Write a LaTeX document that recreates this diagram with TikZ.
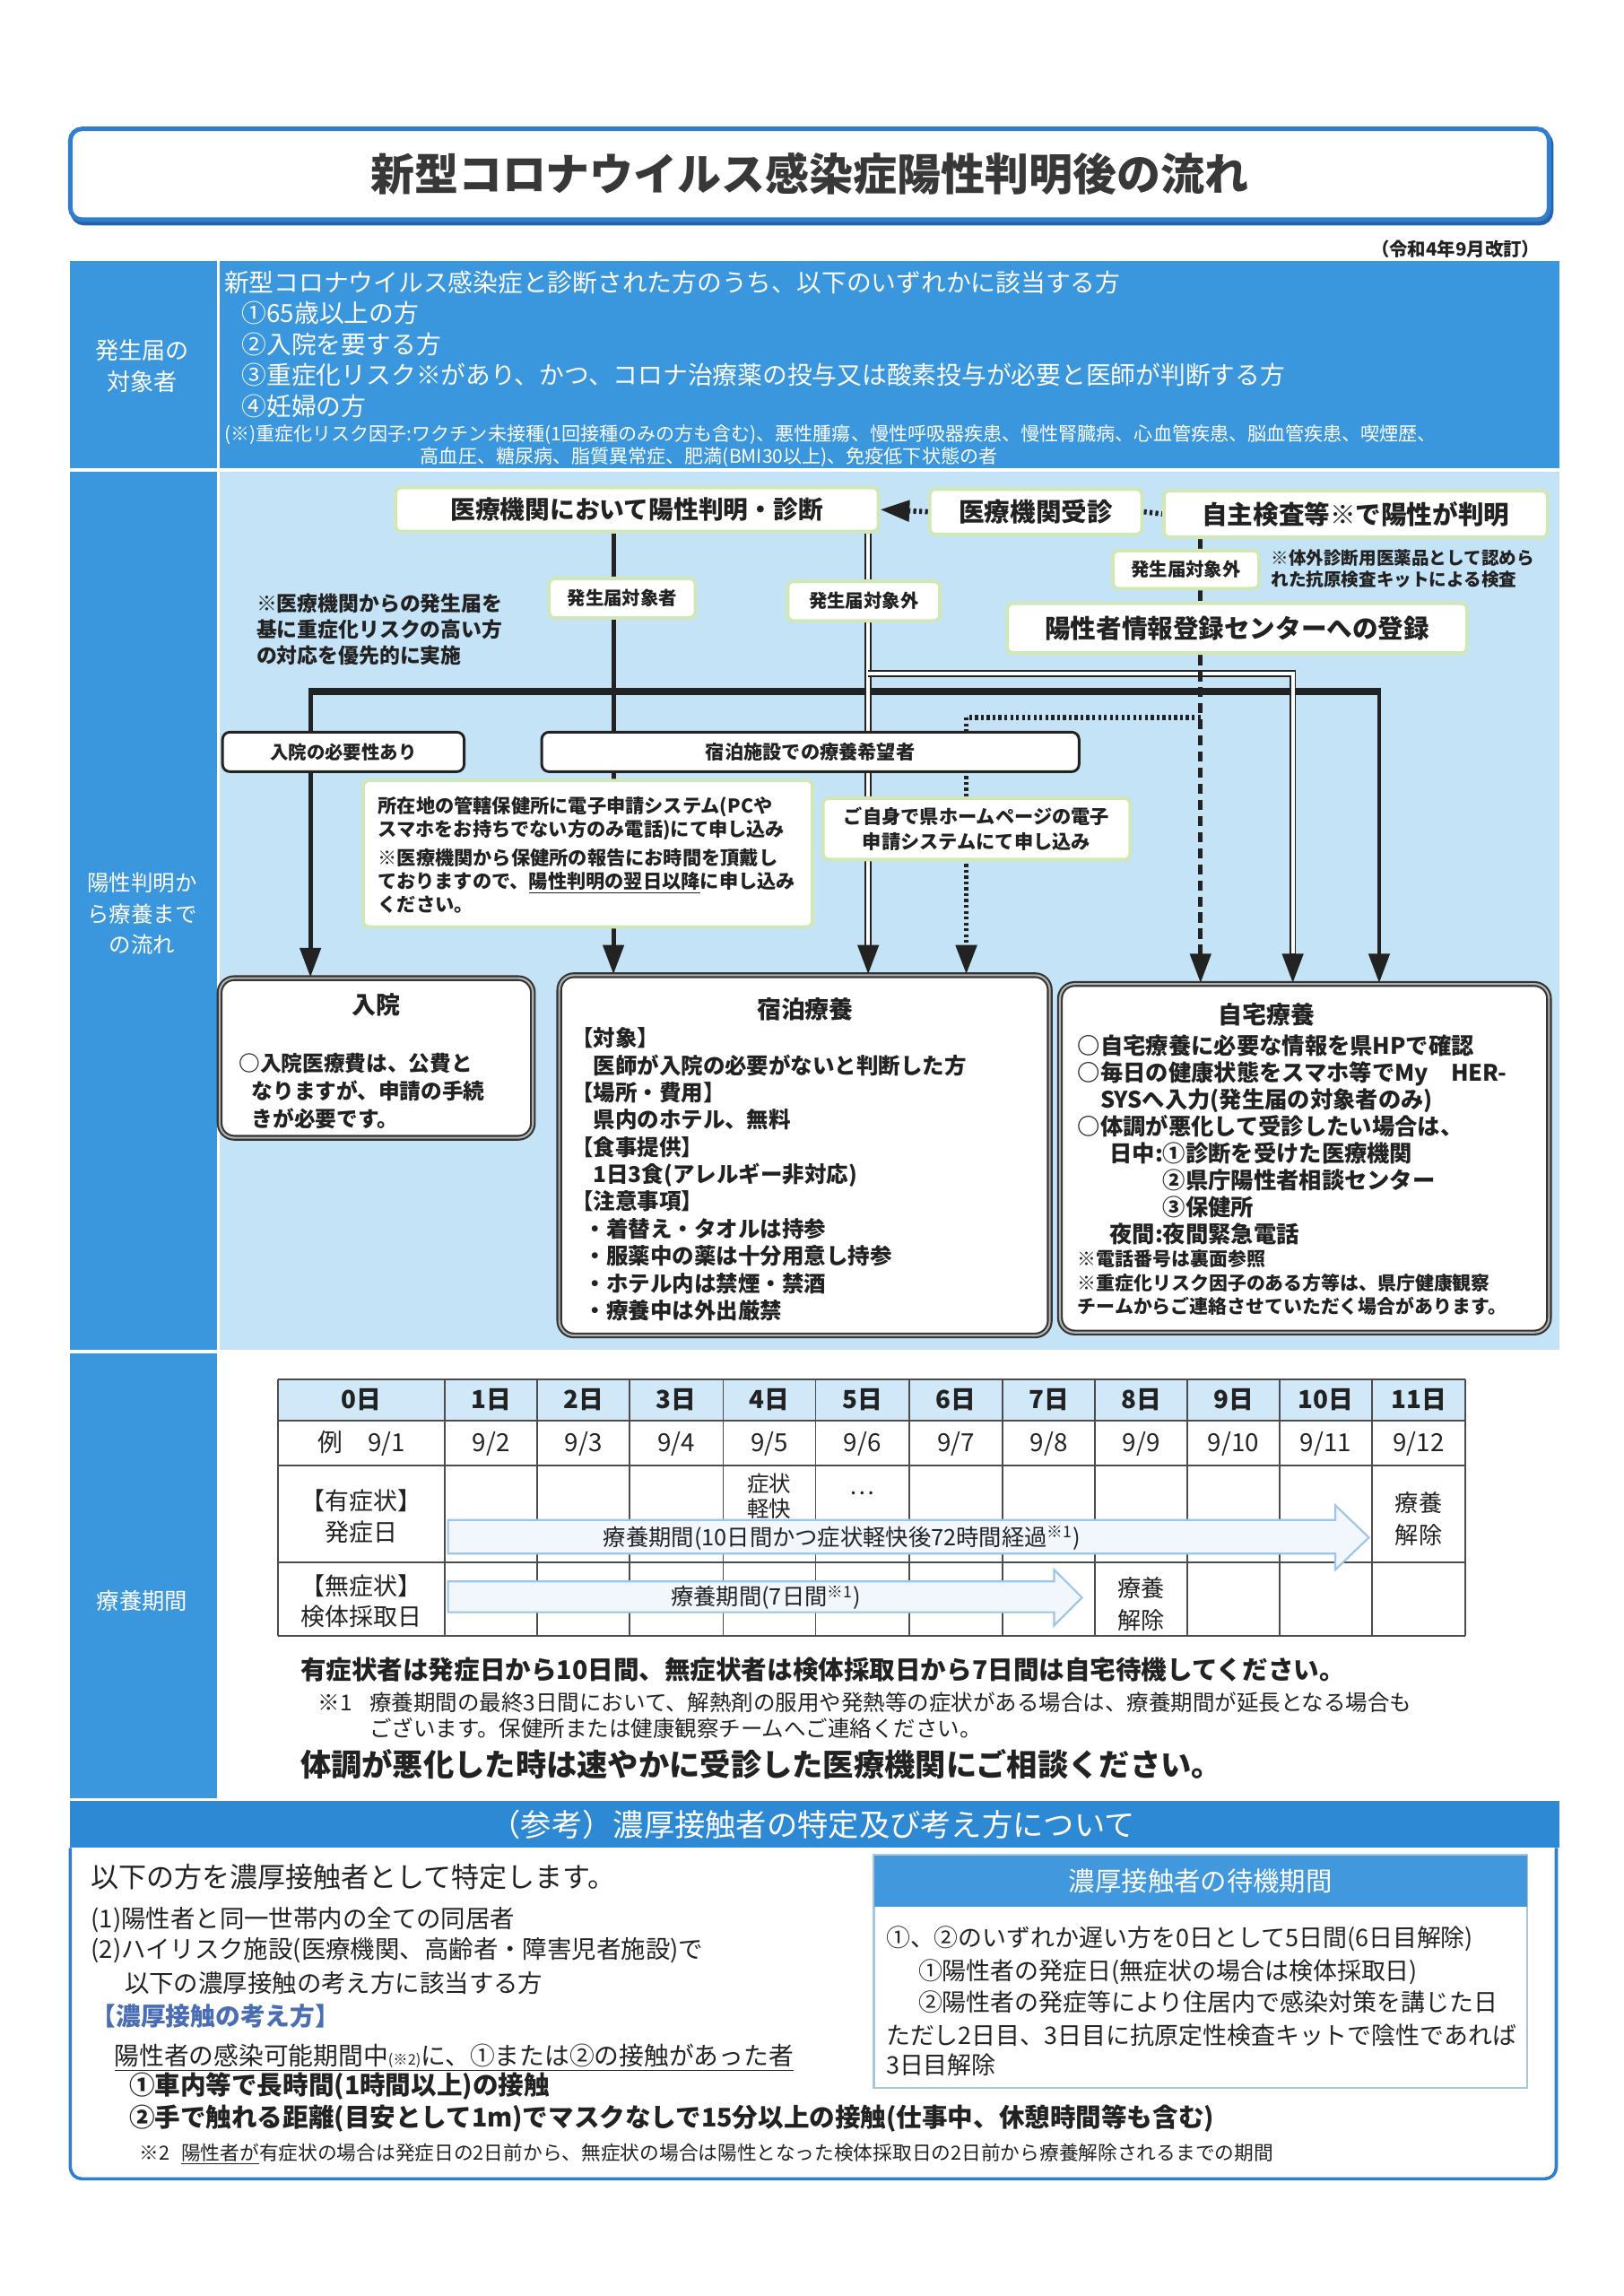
\documentclass[tikz,border=0pt]{standalone}
\usepackage{fontspec}
\setmainfont{Noto Sans CJK JP}
\usetikzlibrary{arrows.meta,calc}
\pgfdeclarelayer{back}\pgfdeclarelayer{mid}
\pgfsetlayers{back,mid,main}
\definecolor{bmain}{HTML}{3A97DD}
\definecolor{bhead}{HTML}{2E89D5}
\definecolor{bh2}{HTML}{4298DC}
\definecolor{blight}{HTML}{C5E3F6}
\definecolor{gbd}{HTML}{D0E7B8}
\definecolor{tx}{HTML}{222222}
\definecolor{hdr}{HTML}{D0E8F8}
\definecolor{afill}{HTML}{F1F7FD}
\definecolor{aline}{HTML}{9DC5E9}
\definecolor{kang}{HTML}{4A6DB3}
\definecolor{tb}{HTML}{2F7ED0}
\definecolor{wbd}{HTML}{A9C4DD}
\newcommand\fsz[2]{\fontsize{#1pt}{#2pt}\selectfont}
\begin{document}
\begin{tikzpicture}[x=1pt,y=-1pt,
 gbox/.style={draw=gbd, line width=2.4pt, fill=white, rounded corners=4pt, inner sep=0pt, text=tx},
 kbox/.style={draw=tx, line width=1.8pt, fill=white, rounded corners=5pt, inner sep=0pt, text=tx},
 bigbox/.style={draw=black!80, line width=1.3pt, double=black!30, double distance=1.3pt, fill=white, rounded corners=10pt, inner sep=0pt},
 txt/.style={inner sep=0pt, text=tx, align=left},
 wtxt/.style={inner sep=0pt, text=white, align=left},
 thk/.style={draw=tx, line width=3pt},
 barline/.style={draw=tx, line width=5pt},
 dbl/.style={draw=tx, line width=1pt, double=white, double distance=2.6pt},
 dsh/.style={draw=tx, line width=3pt, dash pattern=on 7pt off 4pt},
 dts/.style={draw=tx, line width=3.5pt, dash pattern=on 2pt off 2pt},
 arr/.style={-{Triangle[length=20pt,width=14pt]}},
 grid/.style={draw=black!70, line width=1.1pt},
 parrow/.style={fill=afill, draw=aline, line width=1.3pt},
]
\useasboundingbox (0,0) rectangle (1109,1568);
\begin{pgfonlayer}{back}
\fill[white] (0,0) rectangle (1109,1568);
\fill[bmain] (48,178) rectangle (148,320);
\fill[bmain] (150,178) rectangle (1065,320);
\fill[bmain] (48,322) rectangle (148,922);
\fill[blight] (150,322) rectangle (1065,922);
\fill[bmain] (48,924) rectangle (148,1228);
\fill[bhead] (48,1230) rectangle (1065,1262);
\draw[tb!80!black, line width=3pt, rounded corners=8pt] (49.5,90.5) rectangle (1059.5,152.5);
\end{pgfonlayer}

% title
\node[draw=tb, line width=3pt, fill=white, rounded corners=8pt, minimum width=1010pt, minimum height=62pt, inner sep=0pt, text=black!78, font=\fsz{30}{36}\bfseries] (title) at (553,119) {新型コロナウイルス感染症陽性判明後の流れ};
\node[txt, anchor=east, font=\fsz{12.5}{15}\bfseries] (rev) at (1052,170) {（令和4年9月改訂）};

% section labels
\node[wtxt, align=center, font=\fsz{16}{21}] (lab1) at (97,250) {発生届の\\対象者};
\node[wtxt, align=center, font=\fsz{15}{21}] (lab2) at (97,624) {陽性判明か\\ら療養まで\\の流れ};
\node[wtxt, align=center, font=\fsz{15.5}{20}] (lab3) at (97,1093) {療養期間};

% block 1
\node[wtxt, anchor=west, font=\fsz{17}{21.3}] (b1a) at (153,193) {新型コロナウイルス感染症と診断された方のうち、以下のいずれかに該当する方};
\node[wtxt, anchor=north west, font=\fsz{17}{21.3}] (b1b) at (165,205.5) {①65歳以上の方\\②入院を要する方\\③重症化リスク※があり、かつ、コロナ治療薬の投与又は酸素投与が必要と医師が判断する方\\④妊婦の方};
\node[wtxt, anchor=west, font=\fsz{12.9}{15}] (b1c) at (153,297) {(※)重症化リスク因子:ワクチン未接種(1回接種のみの方も含む)、悪性腫瘍、慢性呼吸器疾患、慢性腎臓病、心血管疾患、脳血管疾患、喫煙歴、};
\node[wtxt, anchor=west, font=\fsz{12.9}{15}] (b1d) at (287,312) {高血圧、糖尿病、脂質異常症、肥満(BMI30以上)、免疫低下状態の者};

% block 2 nodes
\node[gbox, minimum width=330pt, minimum height=30pt, font=\fsz{17}{20}\bfseries] (A) at (435,348) {医療機関において陽性判明・診断};
\node[gbox, minimum width=145pt, minimum height=31pt, font=\fsz{17.5}{20}\bfseries] (B) at (707.5,349.5) {医療機関受診};
\node[gbox, minimum width=262pt, minimum height=32pt, font=\fsz{17.5}{20}\bfseries] (C) at (926,351) {自主検査等※で陽性が判明};
\node[gbox, minimum width=100pt, minimum height=26pt, font=\fsz{12.5}{15}\bfseries] (D) at (810,389) {発生届対象外};
\node[txt, anchor=north west, font=\fsz{12}{15}\bfseries] (Dn) at (868,375) {※体外診断用医薬品として認めら\\れた抗原検査キットによる検査};
\node[gbox, minimum width=314pt, minimum height=34pt, font=\fsz{17.5}{20}\bfseries] (E) at (845,429) {陽性者情報登録センターへの登録};
\node[gbox, minimum width=100pt, minimum height=27pt, font=\fsz{12.5}{15}\bfseries] (F) at (425,408.5) {発生届対象者};
\node[gbox, minimum width=104pt, minimum height=27pt, font=\fsz{12.5}{15}\bfseries] (G) at (590,410.5) {発生届対象外};
\node[txt, anchor=north west, font=\fsz{14}{18}\bfseries] (Ln) at (175,405) {※医療機関からの発生届を\\基に重症化リスクの高い方\\の対応を優先的に実施};
\node[kbox, minimum width=165pt, minimum height=27pt, font=\fsz{12.5}{15}\bfseries] (H) at (234.5,513.5) {入院の必要性あり};
\node[kbox, minimum width=367pt, minimum height=27pt, font=\fsz{13}{15}\bfseries] (S) at (553.5,513.5) {宿泊施設での療養希望者};
\node[gbox, minimum width=307pt, minimum height=100pt] (N1) at (401.5,583) {};
\node[txt, anchor=north west, font=\fsz{13}{16}\bfseries] (N1a) at (258,543.5) {所在地の管轄保健所に電子申請システム(PCや\\スマホをお持ちでない方のみ電話)にて申し込み};
\node[txt, anchor=north west, font=\fsz{13}{16}\bfseries] (N1b) at (258,579.5) {※医療機関から保健所の報告にお時間を頂戴し\\ておりますので、\underline{陽性判明の翌日以降}に申し込み\\ください。};
\node[gbox, minimum width=210pt, minimum height=42pt, align=center, font=\fsz{13}{17}\bfseries] (N2) at (667,566) {ご自身で県ホームページの電子\\申請システムにて申し込み};

% bottom boxes
\node[bigbox, minimum width=214pt, minimum height=109pt] (nyuin) at (257,722.5) {};
\node[txt, font=\fsz{16.5}{20}\bfseries] (nyuinT) at (257,686) {入院};
\node[txt, anchor=north west, font=\fsz{14.5}{19}\bfseries] (nyuinB) at (163,718.75) {○入院医療費は、公費と\\\hspace*{0.6em}なりますが、申請の手続\\\hspace*{0.6em}きが必要です。};
\node[bigbox, minimum width=335pt, minimum height=246pt] (shuku) at (549.5,789) {};
\node[txt, font=\fsz{16.5}{20}\bfseries] (shukuT) at (550,689) {宿泊療養};
\node[txt, anchor=north west, font=\fsz{15}{18.6}\bfseries] (shukuB) at (390,701.5) {【対象】\\\hspace*{1em}医師が入院の必要がないと判断した方\\【場所・費用】\\\hspace*{1em}県内のホテル、無料\\【食事提供】\\\hspace*{1em}1日3食(アレルギー非対応)\\【注意事項】\\\hspace*{0.6em}・着替え・タオルは持参\\\hspace*{0.6em}・服薬中の薬は十分用意し持参\\\hspace*{0.6em}・ホテル内は禁煙・禁酒\\\hspace*{0.6em}・療養中は外出厳禁};
\node[bigbox, minimum width=334pt, minimum height=238pt] (jitaku) at (891,791) {};
\node[txt, font=\fsz{16.5}{20}\bfseries] (jitakuT) at (865,693) {自宅療養};
\node[txt, anchor=north west, font=\fsz{15.5}{18.4}\bfseries] (jitakuB) at (736,706.25) {○自宅療養に必要な情報を県HPで確認\\○毎日の健康状態をスマホ等でMy　HER-\\\hspace*{1em}SYSへ入力(発生届の対象者のみ)\\○体調が悪化して受診したい場合は、\\\hspace*{1.4em}日中:①診断を受けた医療機関\\\hspace*{1.4em}\phantom{日中:}②県庁陽性者相談センター\\\hspace*{1.4em}\phantom{日中:}③保健所\\\hspace*{1.4em}夜間:夜間緊急電話};
\node[txt, anchor=north west, font=\fsz{12.8}{16}\bfseries] (jitakuN) at (736,853.6) {※電話番号は裏面参照\\※重症化リスク因子のある方等は、県庁健康観察\\チームからご連絡させていただく場合があります。};

% connectors
\coordinate (c1) at (212,472);
\coordinate (c2) at (419,472);
\coordinate (c3) at (593,460);
\coordinate (c4) at (660,490);
\coordinate (c5) at (820,490);
\coordinate (c6) at (883,460);
\coordinate (c7) at (942,472);
\begin{pgfonlayer}{mid}
\draw[thk, arr] (A.south -| c2) -- (c2 |- shuku.north);
\draw[barline] ($(c1)+(-1.5,0)$) -- ($(c7)+(1.5,0)$);
\draw[thk, arr] (c1) -- (c1 |- nyuin.north);
\draw[thk, arr] (c7) -- (c7 |- jitaku.north);
\draw[dbl] (A.south -| c3) -- ($(c3 |- shuku.north)+(0,-17)$);
\draw[dbl] (c3) -- (c6) -- ($(c6 |- jitaku.north)+(0,-17)$);
\draw[thk, arr] ($(c3 |- shuku.north)+(0,-20)$) -- (c3 |- shuku.north);
\draw[thk, arr] ($(c6 |- jitaku.north)+(0,-20)$) -- (c6 |- jitaku.north);
\draw[dsh] (C.south -| c5) -- (D.north -| c5);
\draw[dsh] (D.south -| c5) -- (E.north -| c5);
\draw[dsh, arr] (E.south -| c5) -- (c5 |- jitaku.north);
\draw[dts] (c5) -- (c4);
\draw[dts, arr] (c4) -- (c4 |- shuku.north);
\draw[dts, arr] (B.west) -- (A.east);
\draw[dts] (B.east) -- (C.west);
\end{pgfonlayer}

% table
\fill[hdr] (190,942) rectangle (1001,970);
\foreach \yy in {942,970,1001,1067,1117} \draw[grid] (190,\yy) -- (1001,\yy);
\foreach \xx in {190,304,367,430,494,557,621,685,748,811,874,937,1001} \draw[grid] (\xx,942) -- (\xx,1117);
\foreach \cx/\t [count=\i] in {247/0日,335.5/1日,398.5/2日,462/3日,525.5/4日,589/5日,653/6日,716.5/7日,779.5/8日,842.5/9日,905.5/10日,969/11日}
  \node[txt, font=\fsz{17}{20}\bfseries] (h\i) at (\cx,956) {\t};
\foreach \cx/\t [count=\i] in {247/{例　9/1},335.5/{9/2},398.5/{9/3},462/{9/4},525.5/{9/5},589/{9/6},653/{9/7},716.5/{9/8},779.5/{9/9},842.5/{9/10},905.5/{9/11},969/{9/12}}
  \node[txt, font=\fsz{17}{20}] (d\i) at (\cx,986) {\t};
\node[txt, align=center, font=\fsz{16.5}{21}] (r3) at (247,1035.5) {【有症状】\\発症日};
\node[txt, align=center, font=\fsz{16.5}{21}] (r4) at (247,1093.5) {【無症状】\\検体採取日};
\node[txt, align=center, font=\fsz{15}{17}] (kai) at (525.5,1022) {症状\\軽快};
\node[txt, font=\fsz{16}{18}] (dots) at (589,1020) {…};
\node[txt, align=center, font=\fsz{16}{22}] (rel1) at (969,1037.5) {療養\\解除};
\node[txt, align=center, font=\fsz{16}{22}] (rel2) at (779.5,1095.5) {療養\\解除};
\draw[parrow] (306,1038) -- (912,1038) -- (912,1028) -- (935,1050) -- (912,1072) -- (912,1061) -- (306,1061) -- cycle;
\node[txt, font=\fsz{15.5}{18}] (p1) at (575,1050.5) {療養期間(10日間かつ症状軽快後72時間経過\textsuperscript{※1})};
\draw[parrow] (306,1080) -- (720,1080) -- (720,1072) -- (739,1091) -- (720,1110) -- (720,1101) -- (306,1101) -- cycle;
\node[txt, font=\fsz{15.5}{18}] (p2) at (523,1091) {療養期間(7日間\textsuperscript{※1})};

\node[txt, anchor=west, font=\fsz{17.5}{20}\bfseries] (w1) at (205,1140) {有症状者は発症日から10日間、無症状者は検体採取日から7日間は自宅待機してください。};
\node[txt, anchor=north west, font=\fsz{15}{18}] (w2) at (217,1155.5) {※1\hspace{0.8em}療養期間の最終3日間において、解熱剤の服用や発熱等の症状がある場合は、療養期間が延長となる場合も\\\hspace*{2.35em}ございます。保健所または健康観察チームへご連絡ください。};
\node[txt, anchor=west, font=\fsz{21}{24}\bfseries] (w3) at (205,1205) {体調が悪化した時は速やかに受診した医療機関にご相談ください。};

% block 4
\node[wtxt, font=\fsz{21}{24}] (h4) at (555,1246) {（参考）濃厚接触者の特定及び考え方について};
\draw[tb, line width=2.2pt, rounded corners=8pt] (48,1262) -- (48,1488) -- (1063,1488) -- (1063,1262);
\node[txt, anchor=west, font=\fsz{19}{22}] (k1) at (62,1282) {以下の方を濃厚接触者として特定します。};
\node[txt, anchor=west, font=\fsz{16.8}{20}] (k2) at (62,1311) {(1)陽性者と同一世帯内の全ての同居者};
\node[txt, anchor=west, font=\fsz{16.8}{20}] (k3) at (62,1332) {(2)ハイリスク施設(医療機関、高齢者・障害児者施設)で};
\node[txt, anchor=west, font=\fsz{16.8}{20}] (k4) at (85,1354) {以下の濃厚接触の考え方に該当する方};
\node[inner sep=0pt, anchor=west, text=kang, font=\fsz{17}{20}\bfseries] (k5) at (62,1377) {【濃厚接触の考え方】};
\node[txt, anchor=west, font=\fsz{17}{20}] (k6) at (78,1405) {\underline{陽性者の感染可能期間中{\fsz{10}{12}(※2)}に、①または②の接触があった者}};
\node[txt, anchor=west, font=\fsz{17.5}{20}\bfseries] (k7) at (88,1425) {①車内等で長時間(1時間以上)の接触};
\node[txt, anchor=west, font=\fsz{17.5}{20}\bfseries] (k8) at (88,1447) {②手で触れる距離(目安として1m)でマスクなしで15分以上の接触(仕事中、休憩時間等も含む)};
\node[txt, anchor=west, font=\fsz{13.3}{16}] (k9) at (95,1471) {※2\hspace{0.6em}\underline{陽性者が}有症状の場合は発症日の2日前から、無症状の場合は陽性となった検体採取日の2日前から療養解除されるまでの期間};

\node[draw=wbd, line width=1.5pt, fill=white, minimum width=446pt, minimum height=159pt, inner sep=0pt] (wait) at (820,1346.5) {};
\node[fill=bh2, minimum width=446pt, minimum height=35pt, inner sep=0pt, text=white, font=\fsz{18}{21}] (waith) at (820,1284.5) {濃厚接触者の待機期間};
\node[txt, anchor=west, font=\fsz{16.5}{20}] (m1) at (605,1324) {①、②のいずれか遅い方を0日として5日間(6日目解除)};
\node[txt, anchor=west, font=\fsz{16.5}{20}] (m2) at (627,1347) {①陽性者の発症日(無症状の場合は検体採取日)};
\node[txt, anchor=west, font=\fsz{16.5}{20}] (m3) at (627,1367) {②陽性者の発症等により住居内で感染対策を講じた日};
\node[txt, anchor=west, font=\fsz{16.5}{20}] (m4) at (605,1390) {ただし2日目、3日目に抗原定性検査キットで陰性であれば};
\node[txt, anchor=west, font=\fsz{16.5}{20}] (m5) at (605,1410) {3日目解除};
\end{tikzpicture}
\end{document}
